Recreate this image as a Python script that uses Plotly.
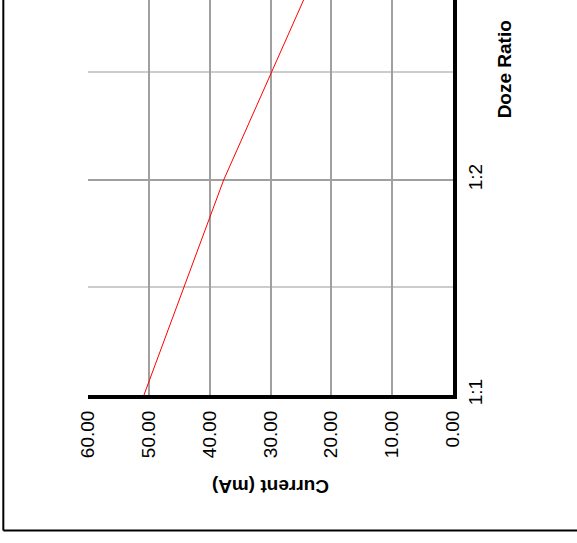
import plotly.graph_objects as go

# doze ratio categories and measured current (mA)
ratios = ["1:1", "1:2", "1:3"]
current_ma = [50.8, 37.7, 22.0]
current_ticks = [60, 50, 40, 30, 20, 10, 0]

FONT = "Arial, 'Liberation Sans', sans-serif"

pos = list(range(len(ratios)))

fig = go.Figure()
fig.add_trace(go.Scatter(
    x=current_ma,
    y=pos,
    mode="lines",
    line=dict(color="#ff0000", width=1),
    showlegend=False,
))

fig.update_layout(
    width=577,
    height=543,
    margin=dict(l=88, r=124, t=0, b=148),
    paper_bgcolor="white",
    plot_bgcolor="white",
    font=dict(family=FONT, size=19, color="black"),
    xaxis=dict(
        range=[60, 0],
        tickvals=current_ticks,
        tickformat=".2f",
        tickangle=-90,
        ticks="",
        ticklabelstandoff=4,
        showgrid=True,
        gridcolor="#a0a0a0",
        gridwidth=2,
        zeroline=False,
        showline=True,
        linecolor="black",
        linewidth=4,
    ),
    yaxis=dict(
        side="right",
        range=[0, 1.837],
        tickvals=pos,
        ticktext=ratios,
        tickangle=-90,
        ticks="",
        ticklabelstandoff=2,
        showgrid=True,
        gridcolor="#a0a0a0",
        gridwidth=2,
        minor=dict(dtick=0.5, tick0=0, showgrid=True, gridcolor="#cccccc", gridwidth=2),
        zeroline=False,
        showline=True,
        linecolor="black",
        linewidth=4,
    ),
    annotations=[
        dict(text="<b>Current (mA)</b>", xref="paper", yref="paper",
             x=0.5, y=-0.232, textangle=180, showarrow=False,
             xanchor="center", yanchor="middle", font=dict(size=19)),
        dict(text="<b>Doze Ratio</b>", xref="paper", yref="paper",
             x=1.142, y=0.824, textangle=-90, showarrow=False,
             xanchor="center", yanchor="middle", font=dict(size=19)),
    ],
    shapes=[
        dict(type="line", xref="paper", yref="paper", x0=-0.232, x1=-0.232,
             y0=-0.343, y1=1.05, line=dict(color="black", width=2)),
        dict(type="line", xref="paper", yref="paper", x0=-0.232, x1=1.4,
             y0=-0.343, y1=-0.343, line=dict(color="black", width=2)),
    ],
)

fig.write_html("out.html", config={"displayModeBar": False},
               post_script="document.body.style.margin='0';")
